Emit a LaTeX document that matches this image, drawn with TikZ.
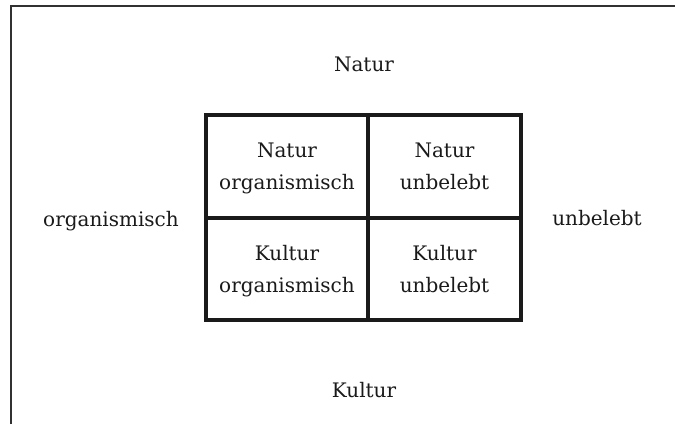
\documentclass[tikz,border=0pt]{standalone}
\usepackage{fontspec}
\setmainfont{DejaVu Serif}
\definecolor{ink}{HTML}{1A1A1A}
\begin{document}
\begin{tikzpicture}[x=1pt,y=-1pt,
  lbl/.style={font=\fontsize{20}{32}\selectfont, text=ink, inner sep=0pt},
  cell/.style={lbl, align=center},
  grid/.style={line width=4pt, draw=ink},
  frame/.style={line width=2pt, draw=ink!90}]
\useasboundingbox (0,0) rectangle (675,424);
\coordinate (fbl) at (11,424);
\coordinate (ftl) at (11,6);
\coordinate (ftr) at (675,6);
\draw[frame] (fbl) -- (ftl) -- (ftr);
\coordinate (gtl) at (206,115);
\coordinate (gbr) at (521,320);
\coordinate (gmt) at (368,115);
\coordinate (gmb) at (368,320);
\coordinate (gml) at (206,218);
\coordinate (gmr) at (521,218);
\draw[grid] (gtl) rectangle (gbr);
\draw[grid] (gmt) -- (gmb);
\draw[grid] (gml) -- (gmr);
\node[cell] (no) at (287,168) {Natur\\organismisch};
\node[cell] (nu) at (444.5,168) {Natur\\unbelebt\vphantom{g}};
\node[cell] (ko) at (287,271) {Kultur\\organismisch};
\node[cell] (ku) at (444.5,271) {Kultur\\unbelebt\vphantom{g}};
\node[lbl, anchor=base] (top) at (364,71) {Natur};
\node[lbl, anchor=base] (bot) at (364,397) {Kultur};
\node[lbl, anchor=base] (left) at (111,226) {organismisch};
\node[lbl, anchor=base] (right) at (597,225) {unbelebt};
\end{tikzpicture}
\end{document}
